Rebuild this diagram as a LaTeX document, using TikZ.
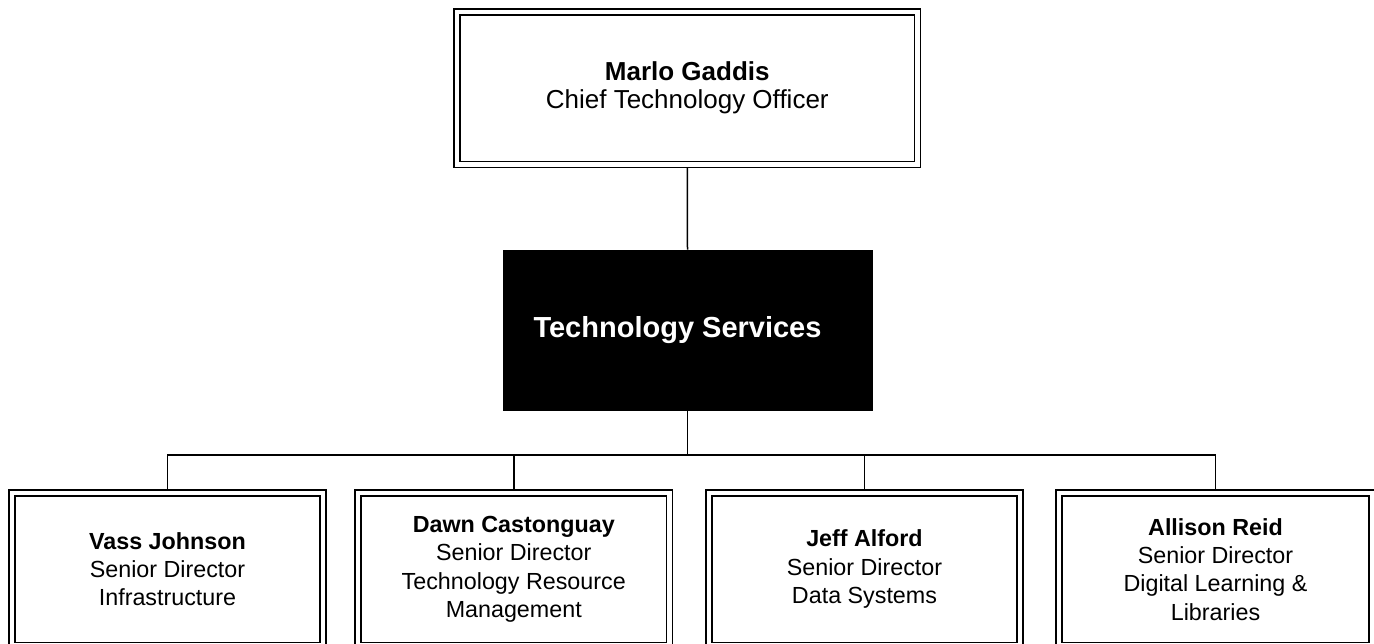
\documentclass[tikz,border=0pt]{standalone}
\usepackage{fontspec}
\setmainfont{Liberation Sans}
\usetikzlibrary{backgrounds}
\begin{document}
\begin{tikzpicture}[x=1pt,y=-1pt,
  dbox/.style={rectangle, draw=black, double=white, double distance=4.4pt,
    line width=1.4pt, fill=white, inner sep=0pt, align=center,
    minimum width=#1, minimum height=152.5pt},
  topfont/.style={font=\fontsize{26}{28}\selectfont},
  subfont/.style={font=\fontsize{23.3}{28.3}\selectfont},
  conn/.style={draw=black, line width=1.5pt}]
\useasboundingbox (0,0) rectangle (1374,644);

\node[dbox=460.5pt, topfont] (ceo) at (687.25,88.25)
  {\textbf{Marlo Gaddis}\\Chief Technology Officer};

\node[rectangle, fill=black, draw=black, line width=0.8pt, minimum width=369pt,
  minimum height=160pt, inner sep=0pt] (ts) at (687.5,330) {};
\node[text=white, font=\fontsize{29}{32}\selectfont\bfseries, inner sep=0pt]
  (tstext) at (677.5,330) {Technology Services};

\node[dbox=311pt, subfont] (b1) at (167.5,569.25)
  {\textbf{Vass Johnson}\\Senior Director\\Infrastructure};
\node[dbox=311.5pt, subfont] (b2) at (513.75,569.25)
  {\textbf{Dawn Castonguay}\\Senior Director\\Technology Resource\\Management};
\node[dbox=311pt, subfont] (b3) at (864.5,569.25)
  {\textbf{Jeff Alford}\\Senior Director\\Data Systems};
\node[dbox=313pt, subfont] (b4) at (1215.5,569.25)
  {\textbf{Allison Reid}\\Senior Director\\Digital Learning \&\\Libraries};

\coordinate (bus) at (687.5,455);

\begin{scope}[on background layer]
  \draw[conn] (ceo.south) -- (ts.north);
  \draw[conn] (ts.south) -- (bus);
  \draw[conn] (b1.north) |- (bus);
  \draw[conn] (b2.north) |- (bus);
  \draw[conn] (b3.north) |- (bus);
  \draw[conn] (b4.north) |- (bus);
\end{scope}
\end{tikzpicture}
\end{document}
